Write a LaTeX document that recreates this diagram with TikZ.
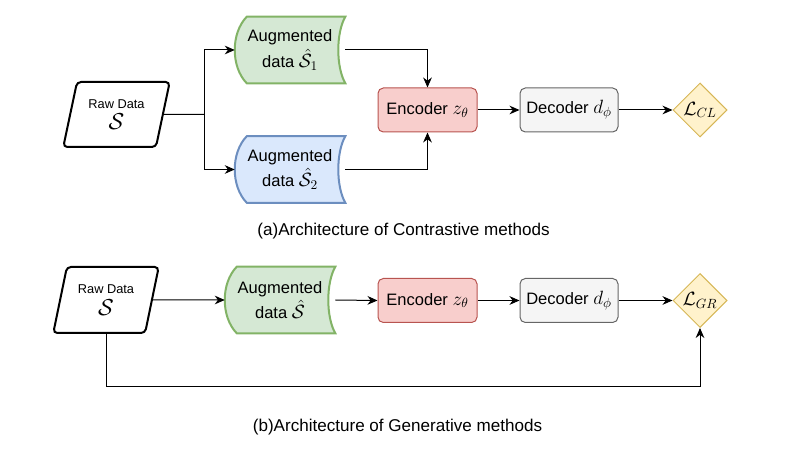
\documentclass[tikz,border=0pt]{standalone}
\usepackage{fontspec}
\setmainfont{Liberation Sans}
\usetikzlibrary{shapes.geometric,arrows.meta,calc,backgrounds}
\definecolor{gfill}{HTML}{D5E8D4}\definecolor{gline}{HTML}{82B366}
\definecolor{bfill}{HTML}{DAE8FC}\definecolor{bline}{HTML}{6C8EBF}
\definecolor{rfill}{HTML}{F8CECC}\definecolor{rline}{HTML}{B85450}
\definecolor{dfill}{HTML}{F5F5F5}\definecolor{dline}{HTML}{666666}
\definecolor{yfill}{HTML}{FFF2CC}\definecolor{yline}{HTML}{D6B656}
\newcommand\dstore[3]{%
  \path[fill=#2, draw=#3, line width=1.5pt]
   ($(#1.north west)+(12,0)$) -- (#1.north east)
   .. controls ($(#1.north east)+(-9.3,16.5)$) and ($(#1.south east)+(-9.3,-16.5)$) .. (#1.south east)
   -- ($(#1.south west)+(12,0)$)
   .. controls ($(#1.south west)+(-4,-16.5)$) and ($(#1.north west)+(-4,16.5)$) .. cycle;}
\newcommand\mymath[1]{{\fontsize{14.8}{15}\selectfont$#1$}}
\tikzset{
  arr/.style={-{Stealth[length=7.5pt,width=6.5pt,inset=2.4pt]}, line width=0.75pt},
  rawbox/.style={trapezium, trapezium left angle=72, trapezium right angle=108,
    trapezium stretches=true, draw, line width=1.5pt, rounded corners=3pt,
    minimum width=80.25pt, minimum height=48.75pt, inner sep=0pt, align=center},
  augbox/.style={rectangle, minimum width=82.5pt, minimum height=49.5pt, inner sep=0pt,
    align=center, font=\fontsize{12.4}{19}\selectfont},
  encbox/.style={rectangle, rounded corners=4pt, draw=rline, fill=rfill, line width=0.75pt,
    minimum width=74.25pt, minimum height=33pt, inner sep=0pt},
  decbox/.style={rectangle, rounded corners=4pt, draw=dline, fill=dfill, line width=0.75pt,
    minimum width=73.5pt, minimum height=33pt, inner sep=0pt},
  lossbox/.style={diamond, aspect=1, draw=yline, fill=yfill, line width=0.75pt,
    minimum size=40.5pt, inner sep=0pt},
  caption/.style={font=\fontsize{12.8}{15}\selectfont}
}
\newcommand\rawtext{{\fontsize{9.6}{10}\selectfont Raw Data}\\[-2pt]{\fontsize{16}{16}\selectfont$\mathcal{S}$}}
\begin{document}
\begin{tikzpicture}[x=0.75pt, y=-0.75pt, font=\fontsize{12.4}{18}\selectfont]
\useasboundingbox (0,0) rectangle (796,459);
% ---- (a) contrastive
\node[rawbox] (raw) at (116.5,114.5) {\rawtext};
\node[augbox] (aug1) at (290,50) {Augmented\\data \mymath{\hat{\mathcal{S}}_1}};
\node[augbox] (aug2) at (290,169.5) {Augmented\\data \mymath{\hat{\mathcal{S}}_2}};
\begin{scope}[on background layer]
  \dstore{aug1}{gfill}{gline}
  \dstore{aug2}{bfill}{bline}
\end{scope}
\node[encbox] (enc) at (427.5,110) {Encoder \mymath{z_\theta}};
\node[decbox] (dec) at (569,110) {Decoder \mymath{d_\phi}};
\node[lossbox] (loss) at (700,110) {\mymath{\mathcal{L}_{CL}}};
\coordinate (split) at (204,114.5);
\draw[line width=0.75pt] (raw.east) -- (split);
\draw[arr] (split) |- (aug1.west);
\draw[arr] (split) |- (aug2.west);
\draw[arr] (aug1.east) -| (enc.north);
\draw[arr] (aug2.east) -| (enc.south);
\draw[arr] (enc.east) -- (dec.west);
\draw[arr] (dec.east) -- (loss.west);
\node[caption] (capa) at (403.5,231) {(a)Architecture of Contrastive methods};
% ---- (b) generative
\node[rawbox, minimum width=79.5pt, minimum height=49.5pt] (raw2) at (106,300) {\rawtext};
\node[augbox] (aug3) at (280,300) {Augmented\\data \mymath{\hat{\mathcal{S}}}};
\begin{scope}[on background layer]
  \dstore{aug3}{gfill}{gline}
\end{scope}
\node[encbox] (enc2) at (427.5,300.5) {Encoder \mymath{z_\theta}};
\node[decbox] (dec2) at (569,300.5) {Decoder \mymath{d_\phi}};
\node[lossbox] (loss2) at (700,300.5) {\mymath{\mathcal{L}_{GR}}};
\coordinate (low) at (0,387);
\draw[arr] (raw2.east) -- (aug3.west);
\draw[arr] (aug3.east) -- (enc2.west);
\draw[arr] (enc2.east) -- (dec2.west);
\draw[arr] (dec2.east) -- (loss2.west);
\draw[arr] (raw2.south) |- (low -| loss2.south) -- (loss2.south);
\node[caption] (capb) at (397.5,427) {(b)Architecture of Generative methods};
\end{tikzpicture}
\end{document}
